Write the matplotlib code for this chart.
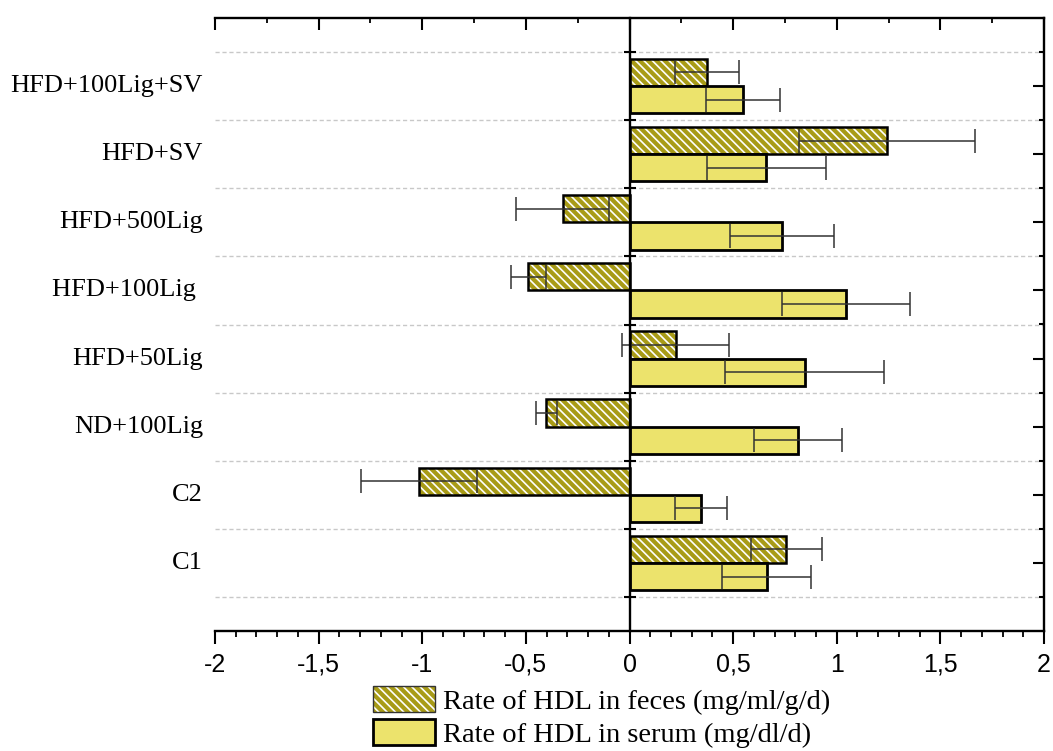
import numpy as np
import matplotlib
matplotlib.use("Agg")
import matplotlib.pyplot as plt
from matplotlib.patches import Patch
from matplotlib.legend_handler import HandlerTuple
from matplotlib.ticker import MultipleLocator, FixedLocator
from matplotlib.font_manager import FontProperties

# ---- data -------------------------------------------------------------
groups = ["C1", "C2", "ND+100Lig", "HFD+50Lig", "HFD+100Lig ",
          "HFD+500Lig", "HFD+SV", "HFD+100Lig+SV"]
feces = [0.757, -1.016, -0.401, 0.222, -0.489, -0.322, 1.242, 0.374]
feces_err = [0.171, 0.278, 0.050, 0.256, 0.085, 0.225, 0.425, 0.155]
serum = [0.662, 0.346, 0.813, 0.845, 1.045, 0.736, 0.660, 0.547]
serum_err = [0.216, 0.126, 0.213, 0.382, 0.307, 0.253, 0.288, 0.177]
xtick_values = [-2, -1.5, -1, -0.5, 0, 0.5, 1, 1.5, 2]
xtick_labels = ["-2", "-1,5", "-1", "-0,5", "0", "0,5", "1", "1,5", "2"]
legend_labels = ["Rate of HDL in feces (mg/ml/g/d)",
                 "Rate of HDL in serum (mg/dl/d)"]

# ---- style ------------------------------------------------------------
olive = "#A89B17"
yellow = "#ECE36C"
plt.rcParams["hatch.color"] = "white"
plt.rcParams["hatch.linewidth"] = 1.2
serif = FontProperties(family="Liberation Serif", size=19)
serif_legend = FontProperties(family="Liberation Serif", size=20.5)
hatch = "\\\\\\\\"

fig = plt.figure(figsize=(10.53, 7.51), dpi=100)
ax = fig.add_axes([215 / 1053, 120 / 751, 829 / 1053, 613 / 751])

pos = np.arange(1, len(groups) + 1)
bh = 0.4

# twin axes carrying the top and right tick marks
top = ax.twiny()
top.set_xlim(-2, 2)
top.xaxis.set_major_locator(MultipleLocator(0.5))
top.xaxis.set_minor_locator(FixedLocator(np.arange(-1.75, 2, 0.5)))
top.tick_params(axis="x", which="major", direction="in", length=8.6, width=1.5,
                labeltop=False)
top.tick_params(axis="x", which="minor", direction="in", length=3.8, width=1.3)
for s in ["left", "right", "bottom", "top"]:
    top.spines[s].set_visible(False)

right = ax.twinx()
right.set_ylim(0, 9)
right.yaxis.set_major_locator(FixedLocator(pos))
right.yaxis.set_minor_locator(FixedLocator(np.arange(0.5, 9, 1)))
right.tick_params(axis="y", which="major", direction="in", length=8, width=1.5,
                  labelright=False)
right.tick_params(axis="y", which="minor", direction="in", length=3.6, width=1.5)
for s in ["left", "right", "bottom", "top"]:
    right.spines[s].set_visible(False)

# bars: feces (hatched, drawn above) and serum (plain, below)
ax.barh(pos + bh / 2, feces, height=bh, color=olive, hatch=hatch,
        linewidth=0, zorder=2)
ax.barh(pos + bh / 2, feces, height=bh, fill=False, edgecolor="black",
        linewidth=1.8, zorder=3)
ax.barh(pos - bh / 2, serum, height=bh, color=yellow, edgecolor="black",
        linewidth=2.0, zorder=3)

ax.errorbar(feces, pos + bh / 2, xerr=feces_err, fmt="none", ecolor="#333333",
            elinewidth=1.1, capsize=8.5, capthick=1.1, zorder=4)
ax.errorbar(serum, pos - bh / 2, xerr=serum_err, fmt="none", ecolor="#333333",
            elinewidth=1.1, capsize=8.5, capthick=1.1, zorder=4)

# axes limits, spines, ticks
ax.set_xlim(-2, 2)
ax.set_ylim(0, 9)
ax.spines["left"].set_position(("data", 0))
for s in ax.spines.values():
    s.set_linewidth(1.7)
    s.set_zorder(5)

ax.set_yticks(np.arange(0.5, 9, 1))
ax.tick_params(axis="y", which="major", direction="inout", length=9, width=1.5,
               labelleft=False)
ax.grid(axis="y", color="#c8c8c8", linestyle=(0, (3, 2)), linewidth=1.0)
ax.set_axisbelow(True)

ax.set_xticks(xtick_values, xtick_labels)
ax.xaxis.set_minor_locator(MultipleLocator(0.1))
ax.tick_params(axis="x", which="major", direction="out", length=9.5, width=1.5,
               labelsize=18, pad=6)
ax.tick_params(axis="x", which="minor", direction="out", length=4.5, width=1.3)
for lab in ax.get_xticklabels():
    lab.set_fontfamily("Liberation Sans")

# category labels to the left of the plot
ytrans = ax.get_yaxis_transform()
for p, g in zip(pos, groups):
    ax.text(-12 / 829, p, g, transform=ytrans, ha="right", va="center",
            fontproperties=serif)

# legend below the axes
h_feces = (Patch(facecolor=olive, hatch=hatch, linewidth=0),
           Patch(fill=False, edgecolor="#333333", linewidth=1.0))
h_serum = Patch(facecolor=yellow, edgecolor="black", linewidth=2.0)
fig.legend([h_feces, h_serum], legend_labels,
           handler_map={tuple: HandlerTuple(ndivide=1, pad=0)},
           loc="upper left", bbox_to_anchor=(373 / 1053, (751 - 686) / 751),
           frameon=False, prop=serif_legend, handlelength=2.18,
           handleheight=1.05, handletextpad=0.28, labelspacing=0.14,
           borderpad=0, borderaxespad=0)

fig.savefig("out.png", dpi=100)
